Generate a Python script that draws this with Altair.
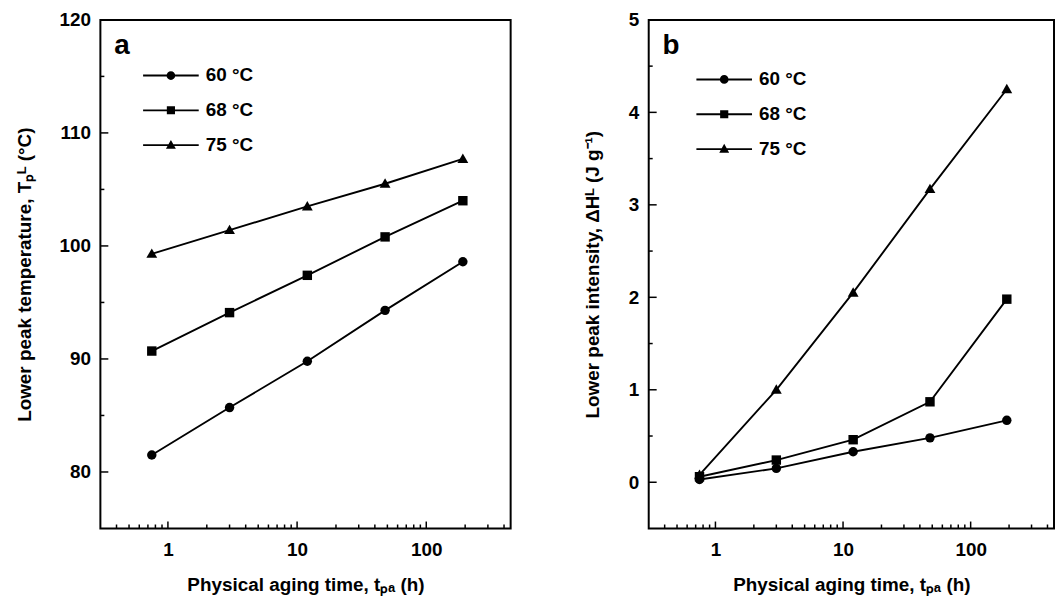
import altair as alt
import pandas as pd

# ---- data ----
times = [0.75, 3, 12, 48, 192]
series = ["60 °C", "68 °C", "75 °C"]
tp_60 = [81.5, 85.7, 89.8, 94.3, 98.6]
tp_68 = [90.7, 94.1, 97.4, 100.8, 104.0]
tp_75 = [99.3, 101.4, 103.5, 105.5, 107.7]
dh_60 = [0.03, 0.15, 0.33, 0.48, 0.67]
dh_68 = [0.06, 0.24, 0.46, 0.87, 1.98]
dh_75 = [0.08, 1.00, 2.05, 3.17, 4.25]

# ---- axis ticks ----
x_labels = [1, 10, 100]
x_minor = [0.4, 0.5, 0.6, 0.7, 0.8, 0.9, 2, 3, 4, 5, 6, 7, 8, 9,
           20, 30, 40, 50, 60, 70, 80, 90, 200, 300, 400]
ya_labels = [80, 90, 100, 110, 120]
ya_minor = [85, 95, 105, 115]
yb_labels = [0, 1, 2, 3, 4, 5]
yb_minor = [0.5, 1.5, 2.5, 3.5, 4.5]

FONT = "Liberation Sans"
W_A, W_B, H = 413, 408, 512

x_title = "Physical aging time, tₚₐ (h)"
ya_title = "Lower peak temperature, Tₚᴸ (°C)"
yb_title = "Lower peak intensity, ΔHᴸ (J g⁻¹)"

point_shapes = [
    "circle",
    "square",
    "M0,-1.15L1.15,0.85H-1.15Z",
]
legend_paths = [
    "M-2.8,-0.09H2.8V0.09H-2.8ZM-0.44,0A0.44,0.44,0,1,1,0.44,0A0.44,0.44,0,1,1,-0.44,0Z",
    "M-2.8,-0.09H2.8V0.09H-2.8ZM-0.41,-0.41H0.41V0.41H-0.41Z",
    "M-2.8,-0.09H2.8V0.09H-2.8ZM0,-0.52L0.5,0.38H-0.5Z",
]


def long_df(vals):
    rows = []
    for s, v in zip(series, vals):
        for t, y in zip(times, v):
            rows.append({"t": t, "y": y, "s": s})
    return pd.DataFrame(rows)


def panel(vals, ydom, ylabels, yminor, ytitle, letter, lx, ly, width, tpad):
    df = long_df(vals)
    xs = alt.Scale(type="log", domain=[0.3, 450], nice=False)
    ys = alt.Scale(domain=ydom, nice=False, zero=False)
    X = alt.X("t:Q", scale=xs, title=x_title,
              axis=alt.Axis(values=x_labels, format="d"))
    Y = alt.Y("y:Q", scale=ys, title=ytitle,
              axis=alt.Axis(values=ylabels, format="d", titlePadding=tpad))

    base = alt.Chart(df)
    lines = base.mark_line(color="black", strokeWidth=1.9).encode(
        x=X, y=Y, detail="s:N")
    pts = base.mark_point(filled=True, size=90, color="black", opacity=1).encode(
        x=X, y=Y,
        shape=alt.Shape("s:N", scale=alt.Scale(domain=series, range=point_shapes),
                        legend=None))
    leg = base.mark_point(filled=True, size=400, color="black", opacity=0).encode(
        x=X, y=Y,
        shape=alt.Shape("s:N", scale=alt.Scale(domain=series, range=legend_paths),
                        legend=alt.Legend(
                            title=None, orient="none", legendX=lx, legendY=ly,
                            symbolSize=400, symbolFillColor="black",
                            symbolStrokeColor="black", symbolStrokeWidth=0,
                            symbolOpacity=1, labelOffset=25, rowPadding=15,
                            labelFont=FONT, labelFontSize=19,
                            labelFontWeight="bold", labelColor="black")))

    xmaj = alt.Chart(pd.DataFrame({"t": x_labels})).mark_rule(
        color="black", strokeWidth=1.5).encode(
        x=alt.X("t:Q", scale=xs, title=x_title),
        y=alt.value(H), y2=alt.value(H - 7))
    xmin = alt.Chart(pd.DataFrame({"t": x_minor})).mark_rule(
        color="black", strokeWidth=1.5).encode(
        x=alt.X("t:Q", scale=xs, title=x_title),
        y=alt.value(H), y2=alt.value(H - 4))
    ymaj = alt.Chart(pd.DataFrame({"y": ylabels})).mark_rule(
        color="black", strokeWidth=1.5).encode(
        y=alt.Y("y:Q", scale=ys, title=ytitle),
        x=alt.value(0), x2=alt.value(8))
    ymin = alt.Chart(pd.DataFrame({"y": yminor})).mark_rule(
        color="black", strokeWidth=1.5).encode(
        y=alt.Y("y:Q", scale=ys, title=ytitle),
        x=alt.value(0), x2=alt.value(4))
    txt = alt.Chart(pd.DataFrame({"l": [letter]})).mark_text(
        font=FONT, fontSize=28, fontWeight="bold", align="left",
        baseline="alphabetic", color="black").encode(
        text="l:N", x=alt.value(14), y=alt.value(34))

    return alt.layer(lines, pts, leg, xmaj, xmin, ymaj, ymin, txt).resolve_scale(
        shape="independent").properties(width=width, height=H)


pa = panel([tp_60, tp_68, tp_75], [75, 120], ya_labels, ya_minor, ya_title,
           "a", 61, 46, W_A, 25)
pb = panel([dh_60, dh_68, dh_75], [-0.5, 5], yb_labels, yb_minor, yb_title,
           "b", 66, 50, W_B, 26)

chart = alt.hconcat(pa, pb, spacing=139, bounds="flush").properties(
    padding={"left": 6, "top": 0, "right": 0, "bottom": 0}
).configure_view(stroke="black", strokeWidth=2).configure_axis(
    grid=False, ticks=False, domain=False, tickSize=0,
    labelFont=FONT, labelFontSize=19, labelFontWeight="bold", labelColor="black",
    titleFont=FONT, titleFontSize=19, titleFontWeight="bold", titleColor="black",
    labelPadding=10, titlePadding=14
).configure_axisX(labelPadding=12, titlePadding=16)

chart.save("out.html", embed_options={"renderer": "svg", "actions": False})
